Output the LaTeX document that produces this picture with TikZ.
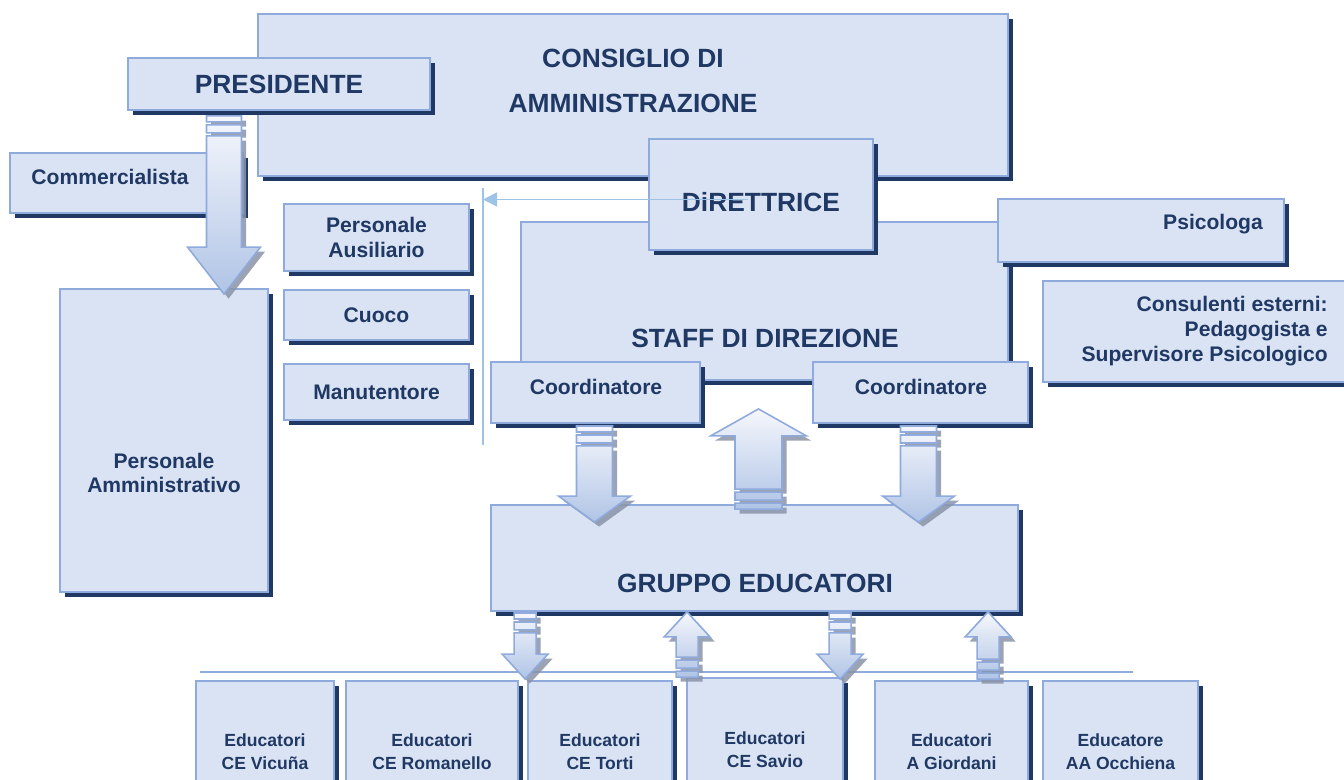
\documentclass[tikz,border=0pt]{standalone}
\usepackage{fontspec}
\setmainfont{Liberation Sans}
\usetikzlibrary{calc,shadows,arrows.meta}

\definecolor{boxfill}{RGB}{218,227,243}
\definecolor{boxline}{RGB}{143,170,220}
\definecolor{navy}{RGB}{31,56,100}
\definecolor{arrowtop}{RGB}{245,247,252}
\definecolor{arrowbot}{RGB}{176,196,230}
\definecolor{arrowshade}{RGB}{138,148,168}
\definecolor{thinblue}{RGB}{157,195,230}

\newcommand{\bigfont}{\bfseries\fontsize{15}{25.6}\selectfont}
\newcommand{\midfont}{\bfseries\fontsize{12}{14}\selectfont}
\newcommand{\smallfont}{\bfseries\fontsize{10}{13}\selectfont}

% one layer of a block arrow: #1 style, #2 shadow shift, #3 tail, #4 tip,
% #5 half shaft, #6 half head, #7 head length
\newcommand{\arrowpart}[7]{%
  \path[#1] let \p1=#3, \p2=#4, \n1={(\y2>\y1) ? 1 : -1},
    \n2={\y1+(\n1)*0.4cm-#2}, \n3={\y2-(\n1)*#7-#2}, \n4={\y2-#2}, \n5={\x1+#2},
    \n6={\y1-#2}, \n7={\y1+(\n1)*0.12cm-#2}, \n8={\y1+(\n1)*0.18cm-#2},
    \n9={\y1+(\n1)*0.34cm-#2} in
    (\n5-#5,\n2) -- (\n5-#5,\n3) -- (\n5-#6,\n3) -- (\n5,\n4) -- (\n5+#6,\n3)
    -- (\n5+#5,\n3) -- (\n5+#5,\n2) -- cycle
    (\n5-#5,\n6) rectangle (\n5+#5,\n7)
    (\n5-#5,\n8) rectangle (\n5+#5,\n9);}
\newcommand{\fatarrow}[5]{%
  \arrowpart{arrowshadow}{2.6pt}{#1}{#2}{#3}{#4}{#5}%
  \arrowpart{arrowbody}{0pt}{#1}{#2}{#3}{#4}{#5}}

\tikzset{
  orgbox/.style={rectangle, draw=boxline, line width=1.1pt, fill=boxfill, inner sep=0pt,
    general shadow={fill=navy, shadow xshift=2.6pt, shadow yshift=-2.6pt},
    text=navy, font=\midfont, align=center},
  boxtext/.style={text=navy, inner sep=0pt, align=center, font=\midfont},
  arrowbody/.style={draw=boxline, line width=0.9pt, top color=arrowtop, bottom color=arrowbot},
  arrowshadow/.style={fill=arrowshade, opacity=0.85},
  thinline/.style={draw=thinblue, line width=0.9pt},
}

\begin{document}
\begin{tikzpicture}[x=0.02cm, y=-0.02cm]
\useasboundingbox (0,0) rectangle (1344,780);
\clip (0,0) rectangle (1344,780);
\fill[white] (0,0) rectangle (1344,780);

% Board and president
\node[orgbox, minimum width=15cm, minimum height=3.24cm] (cda) at (633,95) {};
\node[boxtext, font=\bigfont] (cdatxt) at (633,81) {CONSIGLIO DI\\AMMINISTRAZIONE};
\node[orgbox, font=\bigfont, minimum width=6.04cm, minimum height=1.04cm] (pres) at (279,84) {PRESIDENTE};

% Administration column
\node[orgbox, minimum width=4.66cm, minimum height=1.2cm] (comm) at (126.5,183) {};
\node[boxtext] (commtxt) at (110,177) {Commercialista};
\node[orgbox, minimum width=4.16cm, minimum height=6.06cm] (padm) at (164,440.5) {};
\node[boxtext] (padmtxt) at (164,473) {Personale\\Amministrativo};
\fatarrow{($(pres.south -| 224,0)+(0,5)$)}{($(padm.north -| 224,0)+(0,6)$)}{0.35cm}{0.73cm}{0.94cm}

% Auxiliary staff
\node[orgbox, minimum width=3.7cm, minimum height=1.34cm] (aus) at (376.5,237.5) {Personale\\Ausiliario};
\node[orgbox, minimum width=3.7cm, minimum height=1cm] (cuoco) at (376.5,315) {Cuoco};
\node[orgbox, minimum width=3.7cm, minimum height=1.12cm] (man) at (376.5,392) {Manutentore};
\coordinate (vtop) at (483,188);
\coordinate (vbot) at (483,445);
\draw[thinline] (vtop) -- (vbot);

% Direction
\node[orgbox, minimum width=9.74cm, minimum height=3.16cm] (staff) at (764.5,301) {};
\node[boxtext, font=\bigfont] (stafftxt) at (765,338) {STAFF DI DIREZIONE};
\node[orgbox, minimum width=4.48cm, minimum height=2.22cm] (dir) at (761,194.5) {};
\node[boxtext, font=\bigfont] (dirtxt) at (761,202) {DiRETTRICE};
\coordinate (dstart) at ($(dir.center)+(-13,5)$);
\draw[thinline, -{Triangle[length=8pt,width=8pt]}] (dstart) -- (dstart -| vtop);

% Consultants
\node[orgbox, minimum width=5.72cm, minimum height=1.26cm] (psi) at (1141,230.5) {};
\node[boxtext] (psitxt) at (1213,224) {Psicologa};
\node[orgbox, minimum width=6.14cm, minimum height=2.02cm] (cons) at (1196.5,331.5) {};
\node[boxtext, anchor=east, align=right] (constxt) at (1328,331) {Consulenti esterni:\\Pedagogista e\\Supervisore Psicologico};

% Coordinators
\node[orgbox, minimum width=4.18cm, minimum height=1.22cm] (coordL) at (595.5,392.5) {};
\node[boxtext] (coordLtxt) at (596,387) {Coordinatore};
\node[orgbox, minimum width=4.3cm, minimum height=1.22cm] (coordR) at (920.5,392.5) {};
\node[boxtext] (coordRtxt) at (921,387) {Coordinatore};

% Educators group
\node[orgbox, minimum width=10.54cm, minimum height=2.12cm] (grp) at (754.5,558) {};
\node[boxtext, font=\bigfont] (grptxt) at (755,583) {GRUPPO EDUCATORI};
\fatarrow{($(coordL.south)+(-1,2)$)}{($(coordL.south |- grp.north)+(-1,18)$)}{0.36cm}{0.72cm}{0.52cm}
\fatarrow{($(coordR.south)+(-2,2)$)}{($(coordR.south |- grp.north)+(-2,18)$)}{0.36cm}{0.72cm}{0.52cm}
\fatarrow{($(grp.north)+(4,5)$)}{($(staff.south)+(-6,28)$)}{0.47cm}{0.96cm}{0.54cm}

% Centres
\draw[boxline, line width=1.1pt] (200,672) -- (1133,672);
\node[orgbox, font=\smallfont, minimum width=2.76cm, minimum height=2.84cm] (vicuna) at (265,752) {Educatori\\CE Vicuña};
\node[orgbox, font=\smallfont, minimum width=3.44cm, minimum height=2.84cm] (romanello) at (432,752) {Educatori\\CE Romanello};
\node[orgbox, font=\smallfont, minimum width=2.88cm, minimum height=2.84cm] (torti) at (600,752) {Educatori\\CE Torti};
\node[orgbox, font=\smallfont, minimum width=3.12cm, minimum height=2.88cm] (savio) at (765,750) {Educatori\\CE Savio};
\node[orgbox, font=\smallfont, minimum width=3.06cm, minimum height=2.84cm] (giordani) at (951.5,752) {Educatori\\A Giordani};
\node[orgbox, font=\smallfont, minimum width=3.1cm, minimum height=2.84cm] (occhiena) at (1120.5,752) {Educatore\\AA Occhiena};
\fatarrow{($(grp.south west)+(35,1)$)}{($(torti.north west)+(-2,-1)$)}{0.22cm}{0.46cm}{0.5cm}
\fatarrow{($(savio.north west)+(1,0)$)}{($(grp.south west)+(197,0)$)}{0.22cm}{0.46cm}{0.5cm}
\fatarrow{($(grp.south west)+(350,1)$)}{($(savio.north east)+(-2,2)$)}{0.22cm}{0.46cm}{0.5cm}
\fatarrow{($(giordani.north west)+(114,-1)$)}{($(grp.south east)+(-29,0)$)}{0.22cm}{0.46cm}{0.5cm}
\end{tikzpicture}
\end{document}
